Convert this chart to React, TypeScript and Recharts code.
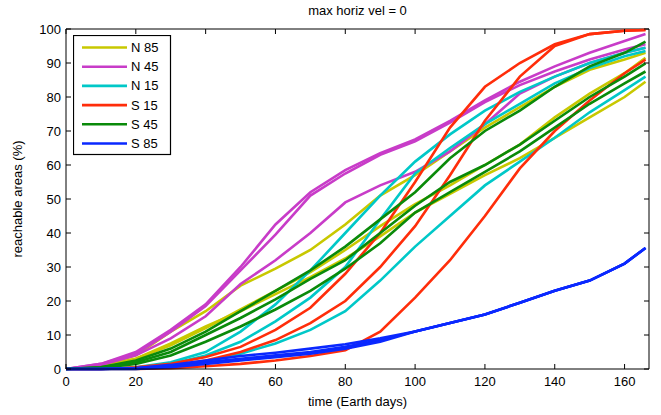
import { LineChart, Line, XAxis, YAxis, ReferenceLine } from "recharts";

const days = [0, 10, 20, 30, 40, 50, 60, 70, 80, 90, 100, 110, 120, 130, 140, 150, 160, 166];

// N 85 (yellow)
const n85a = [0, 1, 4, 11, 17, 24.5, 29.5, 35, 42.5, 51, 57, 64, 71, 77, 83, 88, 91, 93];
const n85b = [0, 0.8, 3, 7, 12, 17.5, 23, 28.5, 35, 42, 48.5, 54, 60, 66, 74, 81, 87, 91.5];
const n85c = [0, 0.8, 3, 7.5, 12.5, 17, 22, 27, 32.5, 39, 46, 51.5, 57, 62, 68, 74, 80, 84.5];
// N 45 (magenta)
const n45a = [0, 1.5, 5, 11.5, 19, 30, 42.5, 52, 58.5, 63.5, 67.5, 73, 79, 84.5, 89, 93, 96.5, 98.5];
const n45b = [0, 1.5, 4.5, 11, 18.5, 29, 39.5, 51, 57.5, 63, 67, 72.5, 78.5, 83.5, 87.5, 91, 94, 95.5];
const n45c = [0, 1.2, 4, 9, 15.5, 25, 32, 40, 49, 54, 58, 64, 72, 81, 86, 90, 93, 94.5];
// N 15 (cyan)
const n15a = [0, 0, 0.5, 2, 5, 11, 19, 29, 40, 51, 61, 69, 76, 81.5, 86, 90, 93, 94.5];
const n15b = [0, 0, 0.3, 1.5, 4, 8, 14, 21, 30, 44, 57.5, 65, 72, 78, 84, 88.5, 92, 93.5];
const n15c = [0, 0, 0, 0.5, 2, 4.5, 7.5, 11.5, 17, 26, 36, 45, 54, 61, 68, 75.5, 82, 86];
// S 15 (red)
const s15a = [0, 0, 0.5, 1.5, 3.5, 6.5, 11.5, 18, 28, 40, 55, 71, 83, 90, 95.5, 98.5, 99.5, 99.7];
const s15b = [0, 0, 0.3, 1, 2.5, 5, 8.5, 13.5, 20, 30, 42, 57, 73, 86, 95, 98.5, 99.5, 99.7];
const s15c = [0, 0, 0, 0.2, 0.8, 1.5, 2.5, 3.8, 5.5, 11, 21, 32, 45, 59, 70, 79, 87, 91];
// S 45 (green)
const s45a = [0, 0.5, 2.5, 6, 11, 17, 23, 29, 36, 44, 52, 62, 70, 76, 83, 89, 93, 96.3];
const s45b = [0, 0.5, 2, 5, 10, 15, 20.5, 26.5, 32, 40, 48, 55, 60, 66, 73, 80, 86, 89.9];
const s45c = [0, 0.3, 1.5, 4, 8, 12.5, 17.5, 23, 29.5, 37, 46, 52, 58, 64, 71, 78, 84, 87.5];
// S 85 (blue)
const s85a = [0, 0, 0.2, 0.8, 2, 3, 4, 5, 6.5, 8.5, 11, 13.5, 16, 19.5, 23, 26, 31, 35.6];
const s85b = [0, 0, 0.3, 1.2, 2.5, 3.8, 4.8, 6, 7.3, 9, 11, 13.5, 16, 19.5, 23, 26, 31, 35.6];
const s85c = [0, 0, 0, 0.5, 1.5, 2.5, 3.5, 4.5, 6, 8, 11, 13.5, 16, 19.5, 23, 26, 31, 35.6];

const xTicks = [0, 20, 40, 60, 80, 100, 120, 140, 160];
const yTicks = [0, 10, 20, 30, 40, 50, 60, 70, 80, 90, 100];

const groups = [
  { name: "N 85", color: "#c8c800", lines: { n85a, n85b, n85c } },
  { name: "N 45", color: "#c83cc8", lines: { n45a, n45b, n45c } },
  { name: "N 15", color: "#00c8c8", lines: { n15a, n15b, n15c } },
  { name: "S 15", color: "#ff2d0a", lines: { s15a, s15b, s15c } },
  { name: "S 45", color: "#0a8a0a", lines: { s45a, s45b, s45c } },
  { name: "S 85", color: "#0a28ff", lines: { s85a, s85b, s85c } },
];

const data = days.map((d, i) => {
  const row: Record<string, number> = { day: d };
  groups.forEach((g) => {
    Object.entries(g.lines).forEach(([k, arr]) => {
      row[k] = arr[i];
    });
  });
  return row;
});

const FONT = "'Liberation Sans', Arial, Helvetica, sans-serif";
const TOP = 29;
const BOTTOM = 369;
const LEFT = 66;
const RIGHT = 649;

const XTick = (props: any) => {
  const { x, payload } = props;
  return (
    <g>
      <line x1={x} x2={x} y1={BOTTOM} y2={BOTTOM - 5} stroke="#000" />
      <line x1={x} x2={x} y1={TOP} y2={TOP + 5} stroke="#000" />
      <text x={x} y={386} textAnchor="middle" fontSize={13} fontFamily={FONT} fill="#000">
        {payload.value}
      </text>
    </g>
  );
};

const YTick = (props: any) => {
  const { y, payload } = props;
  return (
    <g>
      <line x1={LEFT} x2={LEFT + 5} y1={y} y2={y} stroke="#000" />
      <line x1={RIGHT} x2={RIGHT - 5} y1={y} y2={y} stroke="#000" />
      <text x={61} y={y + 4.5} textAnchor="end" fontSize={13} fontFamily={FONT} fill="#000">
        {payload.value}
      </text>
    </g>
  );
};

const LegendBox = () => (
  <svg width={99} height={121} style={{ position: "absolute", left: 73, top: 35, display: "block" }}>
    <rect x={0.5} y={0.5} width={97} height={119} fill="#fff" stroke="#000" strokeWidth={1.2} />
    {groups.map((g, i) => {
      const cy = 12.5 + i * 19.2;
      return (
        <g key={g.name}>
          <line x1={9} x2={54} y1={cy} y2={cy} stroke={g.color} strokeWidth={2.6} />
          <text x={58} y={cy + 4.5} fontSize={13} fontFamily={FONT} fill="#000">
            {g.name}
          </text>
        </g>
      );
    })}
  </svg>
);

export default function App() {
  return (
    <div style={{ position: "absolute", left: 0, top: 0, width: 661, height: 415, background: "#fff" }}>
      <div
        style={{
          position: "absolute",
          left: LEFT,
          width: RIGHT - LEFT,
          top: 3,
          textAlign: "center",
          fontFamily: FONT,
          fontSize: 13,
          color: "#000",
        }}
      >
        max horiz vel = 0
      </div>
      <LineChart width={661} height={415} data={data} margin={{ top: TOP, right: 661 - RIGHT, bottom: 0, left: 0 }}>
        <XAxis
          dataKey="day"
          type="number"
          domain={[0, 167]}
          ticks={xTicks}
          tick={XTick}
          tickLine={false}
          height={415 - BOTTOM}
          axisLine={{ stroke: "#000" }}
          label={() => (
            <text x={(LEFT + RIGHT) / 2} y={406} textAnchor="middle" fontSize={13} fontFamily={FONT} fill="#000">
              time (Earth days)
            </text>
          )}
        />
        <YAxis
          type="number"
          domain={[0, 100]}
          ticks={yTicks}
          tick={YTick}
          tickLine={false}
          width={LEFT}
          axisLine={{ stroke: "#000" }}
          label={() => (
            <text
              x={22}
              y={199}
              transform="rotate(-90 22 199)"
              textAnchor="middle"
              fontSize={13}
              fontFamily={FONT}
              fill="#000"
            >
              reachable areas (%)
            </text>
          )}
        />
        <ReferenceLine y={100} stroke="#000" />
        <ReferenceLine x={167} stroke="#000" />
        {groups.map((g) =>
          Object.keys(g.lines).map((k) => (
            <Line
              key={k}
              dataKey={k}
              type="linear"
              stroke={g.color}
              strokeWidth={2.6}
              dot={false}
              legendType="none"
              isAnimationActive={false}
            />
          ))
        )}
      </LineChart>
      <LegendBox />
    </div>
  );
}
